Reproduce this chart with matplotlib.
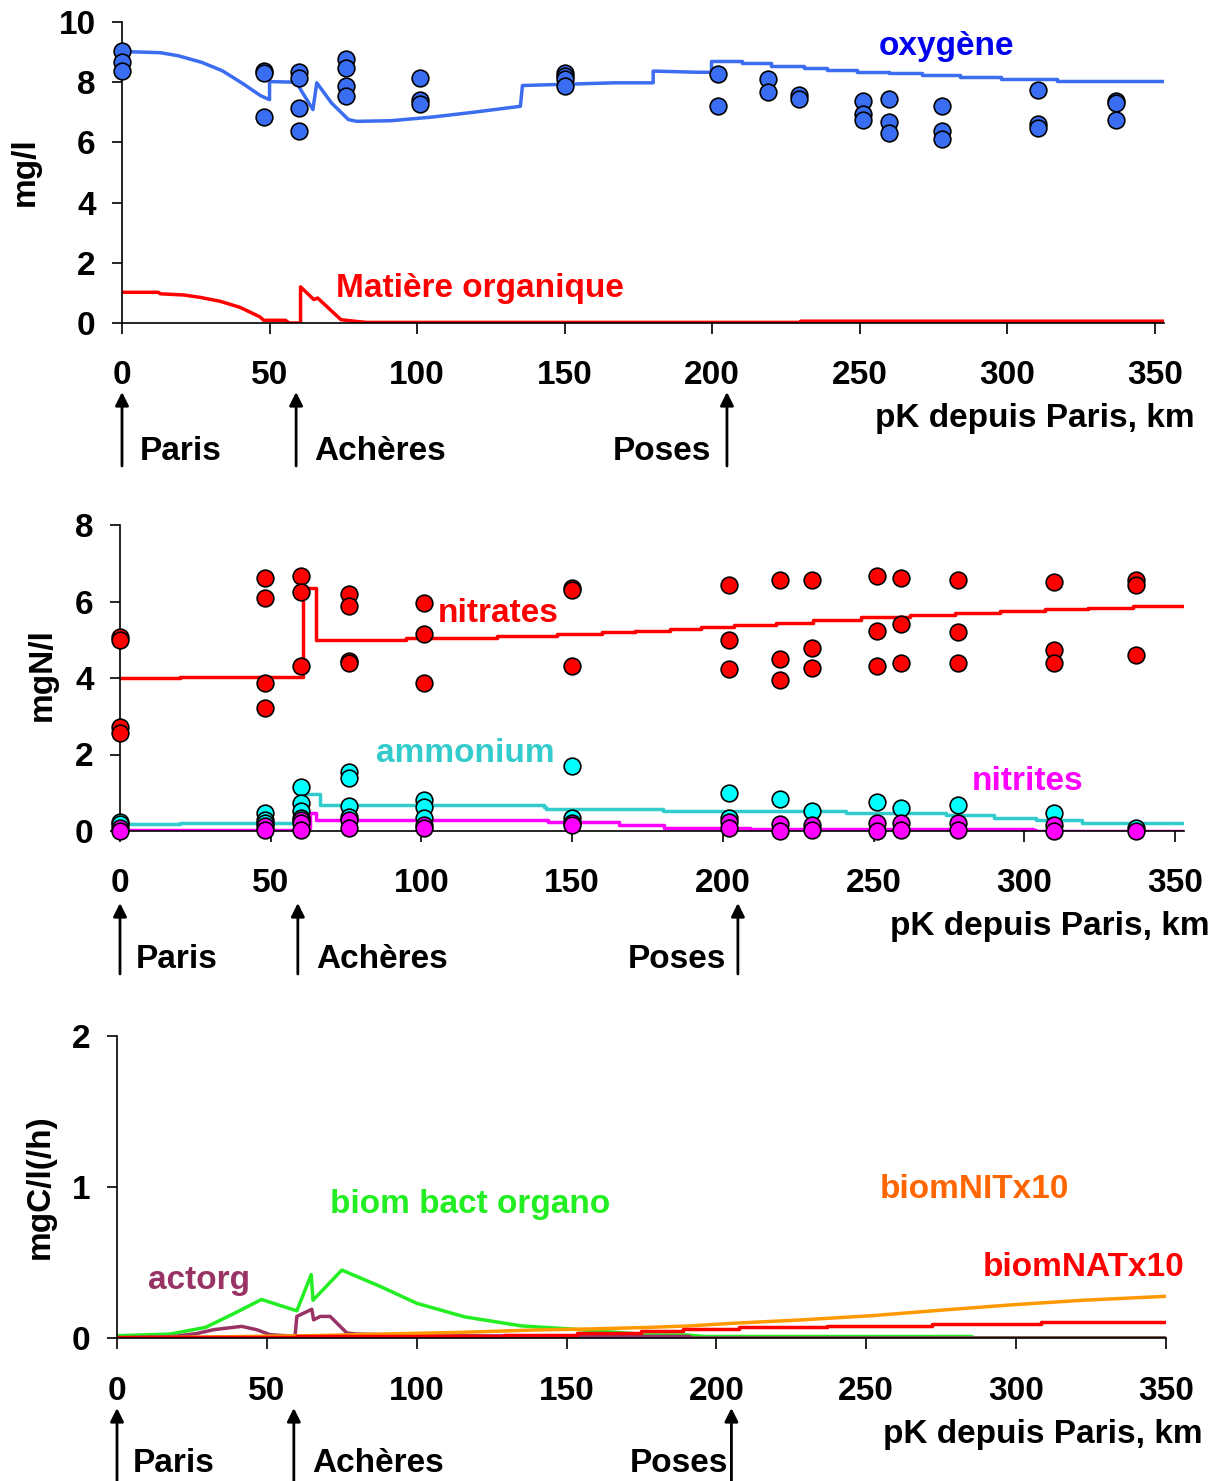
import matplotlib
matplotlib.use("Agg")
import matplotlib.pyplot as plt
import numpy as np

plt.rcParams['font.family'] = ['Liberation Sans', 'DejaVu Sans']
plt.rcParams['font.weight'] = 'bold'
plt.rcParams['font.size'] = 24

W, H = 1221, 1481

# ---- panel 1 : oxygen and organic matter (mg/l) ----
o2_km = [0, 13, 19, 27, 34, 41, 47, 50, 50, 59, 64.7, 66, 71, 76.7, 79.5, 91, 105, 119, 135, 135.7,
         167, 180, 180, 195, 199.7, 199.7, 210, 220, 231, 239, 249, 260, 271, 284, 298, 317, 353]
o2_sim = [9.02, 8.98, 8.88, 8.66, 8.38, 7.95, 7.55, 7.42, 8.02, 8.0, 7.09, 7.98, 7.31, 6.76, 6.7, 6.72,
          6.84, 7.0, 7.2, 7.89, 7.98, 7.98, 8.37, 8.33, 8.33, 8.7, 8.63, 8.55, 8.46, 8.41, 8.35, 8.3,
          8.24, 8.16, 8.09, 8.04, 8.04]

mo_km = [0, 12.3, 13, 21, 26.6, 33.3, 40, 46.8, 48, 55.4, 56.6, 60.5, 60.5, 65, 66.3, 74.2, 78.7, 83,
         230, 230, 353]
mo_sim = [1.02, 1.02, 0.97, 0.93, 0.85, 0.72, 0.52, 0.2, 0.09, 0.09, 0.0, 0.0, 1.2, 0.78, 0.83, 0.11,
          0.06, 0.02, 0.02, 0.06, 0.06]

o2_obs_km = [0, 0, 0, 48, 48, 48, 60, 60, 60, 60, 76, 76, 76, 76, 101, 101, 101, 150, 150, 150, 150,
             202, 202, 219, 219, 229.5, 229.5, 251, 251, 251, 260, 260, 260, 278, 278, 278,
             310.5, 310.5, 310.5, 337, 337, 337]
o2_obs = [9.02, 8.67, 8.37, 8.37, 8.31, 6.84, 8.33, 8.14, 7.14, 6.39, 8.78, 8.48, 7.89, 7.53,
          8.13, 7.42, 7.26, 8.29, 8.2, 8.09, 7.89, 8.26, 7.2, 8.09, 7.67, 7.59, 7.44,
          7.39, 6.96, 6.74, 7.44, 6.67, 6.31, 7.2, 6.39, 6.1, 7.74, 6.6, 6.48, 7.38, 7.3, 6.74]

# ---- panel 2 : nitrogen species (mgN/l) ----
no3_km = [0, 20, 60.8, 60.8, 65, 65, 95, 125, 145, 160, 171, 182.5, 192.7, 203.6, 217.5, 230, 246,
          262, 277, 292, 307, 321, 336, 353]
no3_sim = [4.0, 4.03, 4.08, 6.34, 6.34, 4.99, 5.05, 5.1, 5.14, 5.19, 5.24, 5.27, 5.34, 5.39, 5.43,
           5.52, 5.6, 5.65, 5.69, 5.75, 5.8, 5.84, 5.88, 5.88]

nh4_km = [0, 20, 59.4, 60.8, 65, 66.3, 140.7, 141.4, 179, 180, 207, 241, 274, 290, 304, 319, 353]
nh4_sim = [0.18, 0.22, 0.27, 0.98, 0.98, 0.68, 0.62, 0.57, 0.57, 0.52, 0.51, 0.46, 0.42, 0.33, 0.29,
           0.22, 0.2]

no2_km = [0, 59.4, 62.9, 65, 142, 165.5, 180.6, 209, 303, 304, 353]
no2_sim = [0.03, 0.07, 0.46, 0.29, 0.24, 0.16, 0.07, 0.04, 0.03, 0.01, 0.01]

no3_obs_km = [0, 0, 0, 0, 48, 48, 48, 48, 60, 60, 60, 76, 76, 76, 76, 101, 101, 101, 150, 150, 150,
              202, 202, 202, 219, 219, 219, 229.5, 229.5, 229.5, 251, 251, 251, 259, 259, 259,
              278, 278, 278, 310, 310, 310, 337, 337, 337]
no3_obs = [5.08, 4.99, 2.73, 2.55, 6.61, 6.1, 3.86, 3.21, 6.67, 6.24, 4.31, 6.2, 5.87, 4.44, 4.4,
           5.97, 5.14, 3.86, 6.34, 6.3, 4.31, 6.43, 4.99, 4.23, 6.56, 4.5, 3.95, 6.56, 4.78, 4.27,
           6.67, 5.24, 4.31, 6.61, 5.41, 4.4, 6.56, 5.19, 4.4, 6.52, 4.73, 4.4, 6.56, 6.43, 4.6]

nh4_obs_km = [0, 0, 48, 48, 48, 60, 60, 60, 60, 76, 76, 76, 76, 101, 101, 101, 150, 150, 202, 202,
              219, 229.5, 251, 259, 278, 310, 337]
nh4_obs = [0.24, 0.18, 0.48, 0.29, 0.22, 1.14, 0.74, 0.51, 0.33, 1.55, 1.38, 0.65, 0.37, 0.81, 0.62,
           0.33, 1.7, 0.33, 1.0, 0.33, 0.83, 0.51, 0.77, 0.59, 0.68, 0.46, 0.07]

no2_obs_km = [0, 0, 48, 48, 60, 60, 60, 76, 76, 101, 101, 150, 150, 202, 202, 219, 219, 229.5, 229.5,
              251, 251, 259, 259, 278, 278, 310, 310, 337]
no2_obs = [0.07, 0.01, 0.13, 0.03, 0.3, 0.2, 0.03, 0.29, 0.07, 0.16, 0.07, 0.22, 0.16, 0.24, 0.07,
           0.18, 0.01, 0.16, 0.03, 0.2, 0.01, 0.2, 0.03, 0.2, 0.03, 0.16, 0.01, 0.01]

# ---- panel 3 : biomasses and activity (mgC/l(/h)) ----
bact_km = [0, 17.7, 29.5, 38.8, 48.2, 60, 64.8, 65.4, 75, 88, 100, 116, 135, 151, 172, 174, 190,
           196, 285, 286, 350]
bact = [0.015, 0.026, 0.07, 0.16, 0.255, 0.18, 0.42, 0.25, 0.45, 0.34, 0.23, 0.14, 0.08, 0.06, 0.03,
        0.02, 0.02, 0.01, 0.01, 0.002, 0.002]

actorg_km = [0, 18.9, 26.7, 32.2, 41.6, 46.6, 51.1, 59.4, 60, 65, 65.6, 67.8, 71.1, 76.7, 80, 110,
             191, 192, 350]
actorg = [0.0, 0.01, 0.03, 0.055, 0.077, 0.055, 0.022, 0.011, 0.143, 0.19, 0.12, 0.143, 0.143, 0.033,
          0.026, 0.015, 0.01, 0.0, 0.0]

nit_km = [0, 64.6, 88, 114, 139.5, 158, 177, 191, 205, 228.5, 252, 275.4, 298.8, 322.3, 350]
biom_nit = [0.0, 0.015, 0.026, 0.037, 0.053, 0.06, 0.07, 0.08, 0.097, 0.12, 0.148, 0.185, 0.22, 0.25,
            0.276]

nat_km = [0, 60, 99.7, 129, 153.6, 174.7, 188.7, 207.5, 236.8, 271.9, 308.2, 350]
biom_nat = [0.005, 0.01, 0.015, 0.022, 0.03, 0.044, 0.057, 0.07, 0.08, 0.093, 0.104, 0.104]

km_ticks = [0, 50, 100, 150, 200, 250, 300, 350]
sites = [0, 59, 205]

LW = 2.5


def px_axes(x0, x1, y_top, y_bot):
    return [x0 / W, 1 - y_bot / H, (x1 - x0) / W, (y_bot - y_top) / H]


def style(ax, xmax, ymax, yticks):
    ax.set_xlim(0, xmax)
    ax.set_ylim(0, ymax)
    ax.set_xticks(km_ticks)
    ax.set_yticks(yticks)
    for s in ['top', 'right']:
        ax.spines[s].set_visible(False)
    for s in ['left', 'bottom']:
        ax.spines[s].set_linewidth(1.2)
    ax.tick_params(axis='x', direction='out', length=8, width=1.2, pad=19, labelsize=24)
    ax.tick_params(axis='y', direction='out', length=7, width=1.2, pad=12, labelsize=24)


def sites_and_labels(ax, y_top, y_bot, y_lab, lab_x, y_pk, pk_right):
    for x in sites:
        ax.annotate('', xy=(x, H - y_top), xytext=(x, H - y_bot),
                    xycoords=('data', 'figure pixels'), textcoords=('data', 'figure pixels'),
                    arrowprops=dict(arrowstyle='-|>', lw=2, color='black', mutation_scale=20,
                                    shrinkA=0, shrinkB=0),
                    annotation_clip=False)
    names = ['Paris', 'Achères', 'Poses']
    aligns = ['left', 'left', 'right']
    for name, x, ha in zip(names, lab_x, aligns):
        ax.annotate(name, xy=(x, H - y_lab), xycoords=('data', 'figure pixels'),
                    ha=ha, va='center', fontsize=24, fontweight='bold', annotation_clip=False)
    ax.figure.text(pk_right / W, 1 - y_pk / H, 'pK depuis Paris, km', ha='right', va='center',
                   fontsize=24, fontweight='bold')


def label(ax, x, y, s, color):
    ax.text(x / W, 1 - y / H, s, transform=ax.figure.transFigure, color=color,
            va='center', fontsize=24)


fig = plt.figure(figsize=(W / 100, H / 100), dpi=100)

dot = dict(marker='o', ms=12, mec='black', mew=1.2, ls='none')

# panel 1 : smooth model curve upstream, stepped reaches downstream of Poses
ax1 = fig.add_axes(px_axes(122, 1164, 22, 323))
cut = o2_km.index(199.7) + 1
ax1.plot(o2_km[:cut], o2_sim[:cut], color='#3c6cf0', lw=LW, zorder=2)
ax1.plot(o2_km[cut - 1:], o2_sim[cut - 1:], color='#3c6cf0', lw=LW, zorder=2,
         drawstyle='steps-post')
ax1.plot(mo_km, mo_sim, color='#ff0000', lw=LW, zorder=2)
ax1.plot(o2_obs_km, o2_obs, mfc='#3a6ef2', zorder=3, clip_on=False, **dot)
style(ax1, 353.1, 10, [0, 2, 4, 6, 8, 10])
label(ax1, 879, 47, 'oxygène', '#0000ee')
label(ax1, 336, 289, 'Matière organique', '#ff0000')
fig.text(25 / W, 1 - 172 / H, 'mg/l', rotation=90, ha='center', va='center', fontsize=24)
sites_and_labels(ax1, 392, 466, 451, [6.1, 65, 199.6], 419, 1195)

# panel 2
ax2 = fig.add_axes(px_axes(120, 1184, 525, 831))
ax2.plot(no3_km, no3_sim, color='#ff0000', lw=LW, zorder=2, drawstyle='steps-post')
ax2.plot(nh4_km, nh4_sim, color='#33cccc', lw=LW, zorder=2, drawstyle='steps-post')
ax2.plot(no2_km, no2_sim, color='#ff00ff', lw=LW, zorder=2, drawstyle='steps-post')
ax2.plot(no3_obs_km, no3_obs, mfc='#ff0000', zorder=3, clip_on=False, **dot)
ax2.plot(nh4_obs_km, nh4_obs, mfc='#00ffff', zorder=3, clip_on=False, **dot)
ax2.plot(no2_obs_km, no2_obs, mfc='#ff00ff', zorder=4, clip_on=False, **dot)
style(ax2, 353, 8, [0, 2, 4, 6, 8])
label(ax2, 438, 613, 'nitrates', '#ff0000')
label(ax2, 376, 753, 'ammonium', '#33cccc')
label(ax2, 972, 781, 'nitrites', '#ff00ff')
fig.text(42 / W, 1 - 675 / H, 'mgN/l', rotation=90, ha='center', va='center', fontsize=24)
sites_and_labels(ax2, 903, 974, 959, [5.3, 65, 201], 927, 1210)

# panel 3
ax3 = fig.add_axes(px_axes(117, 1166, 1036, 1338))
ax3.plot(bact_km, bact, color='#22ee22', lw=LW, zorder=2)
ax3.plot(actorg_km, actorg, color='#993366', lw=LW, zorder=2)
ax3.plot(nit_km, biom_nit, color='#ff9900', lw=LW, zorder=2)
ax3.plot(nat_km, biom_nat, color='#ff0000', lw=LW, zorder=2, drawstyle='steps-post')
style(ax3, 350, 2, [0, 1, 2])
label(ax3, 330, 1205, 'biom bact organo', '#22ee22')
label(ax3, 148, 1280, 'actorg', '#993366')
label(ax3, 880, 1189, 'biomNITx10', '#ff6600')
label(ax3, 983, 1267, 'biomNATx10', '#ff0000')
fig.text(40 / W, 1 - 1187 / H, 'mgC/l(/h)', rotation=90, ha='center', va='center', fontsize=24)
sites_and_labels(ax3, 1408, 1490, 1464, [5.3, 65, 204], 1434, 1203)

fig.savefig('out.png', dpi=100)
